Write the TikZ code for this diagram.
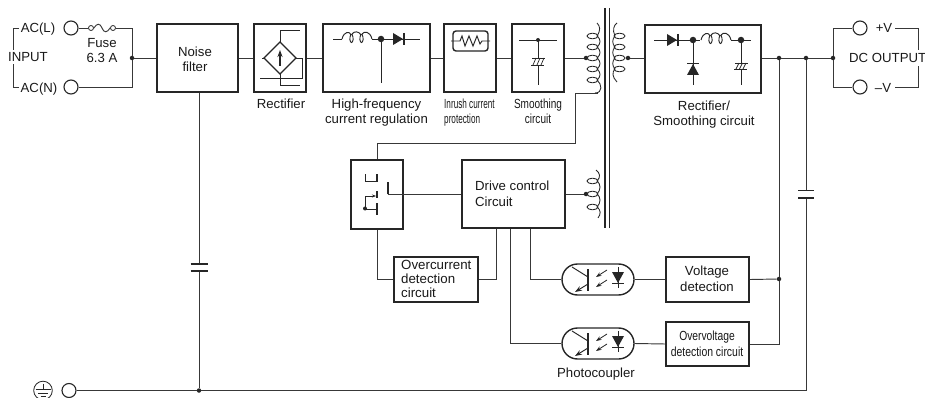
\documentclass[tikz,border=0pt]{standalone}
\usepackage{fontspec}
\setmainfont{Liberation Sans}
\usetikzlibrary{arrows.meta}
\definecolor{ln}{gray}{0.22}
\tikzset{
  x=1pt,y=-1pt,
  wire/.style={draw=ln,line width=0.95pt},
  sym/.style={draw=black!85,line width=0.95pt},
  heavy/.style={draw=black!85,line width=1.6pt},
  blk/.style={draw=black!85,line width=2.1pt,inner sep=0pt,fill=white},
  term/.style={circle,draw=black!85,line width=1.1pt,minimum size=14pt,inner sep=0pt,fill=white},
  jn/.style={circle,fill=black!85,minimum size=4.5pt,inner sep=0pt},
  jb/.style={circle,fill=black!85,minimum size=6.5pt,inner sep=0pt},
  lbl/.style={inner sep=0pt,font=\fontsize{13.2}{15.2}\selectfont,text=black!90,align=center},
  lbll/.style={lbl,align=left},
  base/.style={anchor=base},
}
\newcommand{\turnL}[1]{%
  \draw[sym,line width=0.85pt] (592.5,#1) ellipse [x radius=5.5,y radius=2.8];}
\newcommand{\turnR}[1]{%
  \draw[sym,line width=0.85pt] (619.5,#1) ellipse [x radius=5.5,y radius=2.8];}
\newcommand{\hcoil}[2]{% x0, y
  \begin{scope}[shift={(#1,#2)}]
    \draw[sym] (0,1) .. controls (2,-7) and (8,-7) .. (9,-3);
    \draw[sym] (9,-4) .. controls (7,0) and (8,4.5) .. (9.5,4.5) .. controls (11,4.5) and (12,0) .. (10,-4);
    \draw[sym] (10,-4) .. controls (12,-7) and (17,-7) .. (19,-3);
    \draw[sym] (19,-4) .. controls (17,0) and (18,4.5) .. (19.5,4.5) .. controls (21,4.5) and (22,0) .. (20,-4);
    \draw[sym] (20,-4) .. controls (22,-7) and (28,-7) .. (30,1);
  \end{scope}}
\newcommand{\opto}[1]{%
  \begin{scope}[yshift=-#1pt]
    \draw[sym,line width=1.3pt] (588,269) -- (588,291);
    \draw[sym] (588,277) -- (572,267);
    \draw[sym,-{Stealth[length=7pt,width=5pt]}] (588,284) -- (575,292);
    \draw[sym,line width=0.8pt,-{Stealth[length=5.5pt,width=4pt]}] (607,270) -- (596,277);
    \draw[sym,line width=0.8pt,-{Stealth[length=5.5pt,width=4pt]}] (607,280) -- (596,287);
    \draw[sym] (618,267) -- (618,288);
    \fill[black!85] (612,272) -- (624,272) -- (618,283) -- cycle;
    \draw[sym,line width=1.3pt] (612,283.5) -- (624,283.5);
  \end{scope}}
\begin{document}
\begin{tikzpicture}
\useasboundingbox (0,0) rectangle (925,398);
% ---- blocks
\node[blk,minimum width=81pt,minimum height=68pt] (noise) at (197.5,58) {};
\node[blk,minimum width=52pt,minimum height=68pt] (rect) at (280,58) {};
\node[blk,minimum width=107pt,minimum height=68pt] (hf) at (376.5,58) {};
\node[blk,minimum width=52pt,minimum height=68pt] (inrush) at (470,58) {};
\node[blk,minimum width=52pt,minimum height=68pt] (smooth) at (538,58) {};
\node[blk,minimum width=116pt,minimum height=68pt] (rs) at (703,59) {};
\node[blk,minimum width=52pt,minimum height=69pt] (sw) at (377,194.5) {};
\node[blk,minimum width=103pt,minimum height=68pt] (drive) at (513.5,194) {};
\node[blk,minimum width=84pt,minimum height=45pt] (oc) at (436,279.5) {};
\node[blk,minimum width=83pt,minimum height=45pt] (vd) at (707.5,279.5) {};
\node[blk,minimum width=83pt,minimum height=44pt] (ov) at (707.5,344) {};
\node[rectangle,rounded corners=15.5pt,draw=black!85,line width=1.4pt,minimum width=72pt,minimum height=31pt,inner sep=0pt] (opA) at (598,279.5) {};
\node[rectangle,rounded corners=15.5pt,draw=black!85,line width=1.4pt,minimum width=72pt,minimum height=31pt,inner sep=0pt] (opB) at (598,343.5) {};
% ---- terminals
\node[term] (acl) at (71,28) {};
\node[term] (acn) at (71,87) {};
\node[term] (gnd) at (69,390.5) {};
\node[term] (vp) at (860,28) {};
\node[term] (vm) at (860,87) {};
% ---- junctions
\node[jn] (j1) at (132,58) {};
\node[jn] (jp) at (586,58) {};
\node[jn] (js) at (628,58) {};
\node[jn] (jd) at (586,194) {};
\node[jn] (ja) at (779,58) {};
\node[jn] (jb) at (806,58) {};
\node[jn] (jc) at (833,58) {};
\node[jn] (jv) at (779,279) {};
\node[jn] (jg) at (199,390.5) {};
\coordinate (f1) at (91,28);
\coordinate (f2) at (113,28);
\node[circle,draw=black!85,line width=.8pt,minimum size=5pt,inner sep=0pt] (fa) at (f1) {};
\node[circle,draw=black!85,line width=.8pt,minimum size=5pt,inner sep=0pt] (fb) at (f2) {};
% ---- wires, input side
\draw[wire] (acl) -- (fa);
\draw[wire] (fa.east) .. controls (97,23) and (100,23) .. (102,28) .. controls (104,33) and (107,33) .. (fb.west);
\draw[wire] (fb) -| (j1);
\draw[wire] (acn) -| (j1);
\draw[wire] (j1) -- (noise.west);
\draw[wire] (noise.east) -- (rect.west);
\draw[wire] (rect.east) -- (hf.west);
\draw[wire] (hf.east) -- (inrush.west);
\draw[wire] (inrush.east) -- (smooth.west);
\draw[wire] (smooth.east) -- (jp);
\draw[wire] (js) -- (rs.west |- js);
\draw[wire] (rs.east |- ja) -- (ja) -- (jb) -- (jc);
% input bracket
\coordinate (ib1) at (19,28); \coordinate (ib2) at (13,50); \coordinate (ib3) at (13,64); \coordinate (ib4) at (19,87);
\draw[wire] (ib1) -| (ib2);
\draw[wire] (ib4) -| (ib3);
% ---- output side
\draw[wire] (jc) |- (vp);
\draw[wire] (jc) |- (vm);
\coordinate (ob1) at (895,28); \coordinate (ob2) at (918,50); \coordinate (ob3) at (918,66); \coordinate (ob4) at (895,87);
\draw[wire] (ob1) -| (ob2);
\draw[wire] (ob4) -| (ob3);
% ---- ground
\coordinate (capa) at (199,264); \coordinate (capb) at (199,271);
\draw[wire] (noise.south -| jg) -- (capa);
\draw[wire] (capb) -- (jg);
\draw[heavy,line width=1.5pt] (190.5,264) -- (207.5,264) (190.5,271) -- (207.5,271);
\coordinate (gr) at (806,390.5);
\coordinate (capc) at (806,190.5); \coordinate (capd) at (806,198);
\draw[wire] (gnd) -- (jg) -- (gr) -- (capd);
\draw[wire] (capc) -- (jb);
\draw[heavy,line width=1.5pt] (798,190.5) -- (814,190.5) (798,198) -- (814,198);
\draw[black!85,line width=.8pt] (43,390.5) circle [radius=9.3];
\draw[black!85,line width=.8pt] (43,383.5) -- (43,389.5) (35.5,389.5) -- (50.5,389.5) (38,393) -- (48,393) (40.5,396.5) -- (45.5,396.5);
% ---- feedback wires
\coordinate (p1) at (575,93); \coordinate (p2) at (575,143);
\draw[wire] (598,93) -- (p1) -- (p2) -| (sw.north);
\draw[wire] (sw.south) |- (oc.west);
\draw[wire] (oc.east) -| (drive.south -| 496,0);
\draw[wire] (drive.south -| 530,0) |- (opA.west);
\draw[wire] (drive.south -| 510,0) |- (opB.west);
\draw[wire] (opA.east) -- (vd.west);
\draw[wire] (opB.east) -- (ov.west);
\draw[wire] (vd.east) -- (jv);
\draw[wire] (ja) -- (jv) |- (ov.east);
\draw[wire] (drive.east |- jd) -- (jd);
% switch contact
\coordinate (sg) at (388,182);
\draw[wire] (drive.west |- jd) -- (388,194);
\draw[sym,line width=1.3pt] (388,194.4) -- (sg);
\draw[sym,line width=1.3pt] (377,174) -- (377,182) (377,191) -- (377,198) (377,203) -- (377,215);
\draw[sym] (365,174) -- (365,181) -- (377,181);
\draw[sym] (365,209) -- (377,209) (365,209) -- (365,196);
\draw[sym,line width=.8pt,-{Stealth[length=4pt,width=3pt]}] (365,196) -- (376,196);
\fill[black!85] (365,208.5) circle [radius=2];
% ---- transformer
\draw[black!85,line width=1.7pt] (605,8) -- (605,228) (609.5,8) -- (609.5,228);
\foreach \y in {36,47,58,69,80} {\turnL{\y}}
\foreach \y in {36,47,58,69} {\turnR{\y}}
\draw[sym,line width=.85pt] (597,23) .. controls (600,26) and (601,30) .. (597,36)
  .. controls (601,39) and (601,44) .. (597,47) .. controls (601,50) and (601,55) .. (597,58)
  .. controls (601,61) and (601,66) .. (597,69) .. controls (601,72) and (601,77) .. (597,80)
  .. controls (602,84) and (603,93) .. (595,93);
\draw[sym,line width=.85pt] (617,23) .. controls (614,25) and (612,30) .. (615,36)
  .. controls (612,39) and (612,44) .. (615,47) .. controls (612,50) and (612,55) .. (615,58)
  .. controls (612,61) and (612,66) .. (615,69) .. controls (612,72) and (612,77) .. (617,82);
\foreach \y in {181,194,207} {\turnL{\y}}
\draw[sym,line width=.85pt] (596,170) .. controls (600,173) and (601,177) .. (597,181)
  .. controls (601,184) and (601,190) .. (597,194) .. controls (601,197) and (601,203) .. (597,207)
  .. controls (601,210) and (601,214) .. (598,218);
% ---- rectifier symbol
\draw[sym,line width=1.3pt] (280,42) -- (296,58) -- (280,74) -- (264,58) -- cycle;
\draw[sym] (264,58) -- (262,58);
\draw[sym] (280,42) -- (280,30) -- (300,30);
\draw[sym] (296,58) -- (302,58) -- (302,78) -- (260,78);
\draw[sym] (280,74) -- (280,85) -- (300,85);
\draw[black!85,line width=1.3pt,-{Stealth[length=7pt,width=5pt]}] (280,66) -- (280,50);
% ---- HF regulation
\draw[sym] (333,39) -- (342,39);
\hcoil{342}{38}
\draw[sym] (372,39) -- (420,39);
\node[jb] (d1) at (381,39) {};
\draw[sym] (d1) -- (381,83);
\fill[black!85] (393,33) -- (403,39) -- (393,45) -- cycle;
\draw[sym,line width=1.3pt] (404,33) -- (404,45);
% ---- inrush
\draw[black!85,line width=1.4pt,rounded corners=3pt] (453,31) rectangle (488,51);
\draw[sym] (451,41) -- (460,41) -- (462,36) -- (465,46) -- (469,36) -- (473,46) -- (477,36) -- (480,44) -- (482,41) -- (490,41);
% ---- smoothing
\draw[sym] (519,40) -- (557,40);
\fill[black!85] (538,40) circle [radius=2];
\draw[sym] (538,40) -- (538,58) (538,65) -- (538,85);
\draw[sym] (532,58) -- (545,58) (531,65) -- (544,65);
\draw[sym,line width=.7pt] (533,65) -- (536,58) (537,65) -- (540,58) (541,65) -- (544,58);
% ---- rectifier / smoothing
\draw[sym] (654,40) -- (700,40);
\fill[black!85] (667,34) -- (677,40) -- (667,46) -- cycle;
\draw[sym,line width=1.3pt] (678,34) -- (678,46);
\node[jb] (d2) at (693,40) {};
\hcoil{701}{39}
\draw[sym] (731,40) -- (751,40);
\node[jb] (d3) at (741,40) {};
\draw[sym] (d2) -- (693,85);
\fill[black!85] (687,75) -- (699,75) -- (693,64) -- cycle;
\draw[sym,line width=1.3pt] (687,63.5) -- (699,63.5);
\draw[sym] (d3) -- (741,63) (741,69) -- (741,85);
\draw[sym] (735,63) -- (748,63) (734,69) -- (747,69);
\draw[sym,line width=.7pt] (736,69) -- (739,63) (739.5,69) -- (742.5,63) (743,69) -- (746,63);
% ---- photocouplers
\opto{0}
\opto{64}
% ---- labels (anchor=base sits on the last line of a block)
\node[lbl,base] (tacl) at (38,33) {AC(L)};
\node[lbl,base] (tacn) at (39,92.5) {AC(N)};
\node[lbl,base] (tin) at (28,62) {INPUT};
\node[lbl,base] (tf) at (102,63) {Fuse\\6.3 A};
\node[lbl,base] (tn) at (195,72) {Noise\\filter};
\node[lbl,base] (tr) at (281,109) {Rectifier};
\node[lbl,base] (th) at (376.5,124) {High-frequency\\current regulation};
\node[lbl,lbll,anchor=base west] (ti) at (444,123.5) {\scalebox{.62}[1]{Inrush current}\\\scalebox{.62}[1]{protection}};
\node[lbl,base] (ts) at (538,124) {\scalebox{.76}[1]{Smoothing}\\\scalebox{.76}[1]{circuit}};
\node[lbl,base] (trs) at (704,126) {Rectifier/\\Smoothing circuit};
\node[lbl,base] (tvp) at (884,33) {+V};
\node[lbl,base] (tvm) at (883,93) {–V};
\node[lbl,anchor=base west] (tdc) at (849,63) {DC OUTPUT};
\node[lbll,anchor=base west] (tdr) at (475,206) {Drive control\\Circuit};
\node[lbll,anchor=base west,font=\fontsize{13.3}{14}\selectfont] (toc) at (401,297) {Overcurrent\\detection\\circuit};
\node[lbl,base] (tvd) at (707,291) {Voltage\\detection};
\node[lbl,base] (tov) at (707,356) {\scalebox{.78}[1]{Overvoltage}\\\scalebox{.79}[1]{detection circuit}};
\node[lbl,base] (tph) at (596,377) {Photocoupler};
\end{tikzpicture}
\end{document}
